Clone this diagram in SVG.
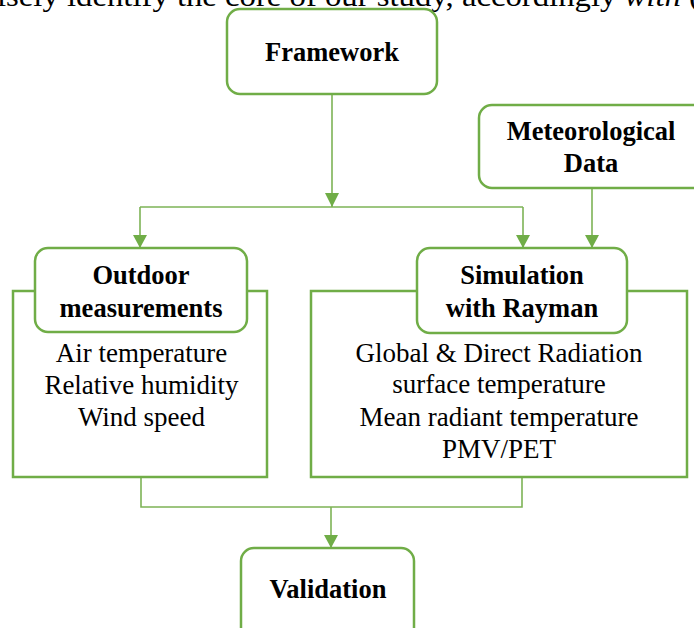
<svg xmlns="http://www.w3.org/2000/svg" width="694" height="628" viewBox="0 0 694 628">
<style>
.box{fill:#fff;stroke:#70AD47;stroke-width:2.5}
.frame{fill:#fff;stroke:#70AD47;stroke-width:2.5}
.con{fill:none;stroke:#7DB356;stroke-width:1.6}
.t{font-family:"Liberation Serif","Times New Roman",serif;font-size:27px;fill:#000;text-anchor:middle}
.b{font-weight:bold;font-size:26.5px}
.para{font-family:"Liberation Serif","Times New Roman",serif;font-size:30px;fill:#000}
</style>
<text class="para" x="-3" y="6" textLength="703" lengthAdjust="spacingAndGlyphs">isely identify the core of our study, accordingly <tspan font-style="italic">with</tspan> (</text>
<g id="connectors">
<path class="con" d="M332 94 V207"/>
<path class="con" d="M140 207 H523"/>
<path class="con" d="M140 207 V248"/>
<path class="con" d="M523 207 V248"/>
<path class="con" d="M592 188 V248"/>
<path class="con" d="M141 477 V507 H522 V477"/>
<path class="con" d="M331 507 V548"/>
<g fill="#70AD47">
<path d="M325 193 L339 193 L332 207 Z"/>
<path d="M133 235 L147 235 L140 248 Z"/>
<path d="M516 235 L530 235 L523 248 Z"/>
<path d="M585 235 L599 235 L592 248 Z"/>
<path d="M324 535 L338 535 L331 548 Z"/>
</g>
</g>
<g id="framework">
<rect class="box" x="227" y="9" width="210" height="85" rx="13"/>
<text class="t b" x="332" y="61">Framework</text>
</g>
<g id="meteorological">
<rect class="box" x="479" y="105" width="240" height="83" rx="13"/>
<text class="t b" x="591" y="140">Meteorological</text>
<text class="t b" x="591" y="172">Data</text>
</g>
<g id="outdoor">
<rect class="frame" x="13" y="291" width="254" height="186"/>
<rect class="box" x="35" y="248" width="212" height="84" rx="13"/>
<text class="t b" x="141" y="284">Outdoor</text>
<text class="t b" x="141" y="317">measurements</text>
<text class="t" x="141.5" y="362">Air temperature</text>
<text class="t" x="141.5" y="394">Relative humidity</text>
<text class="t" x="141.5" y="426">Wind speed</text>
</g>
<g id="simulation">
<rect class="frame" x="311" y="291" width="376" height="186"/>
<rect class="box" x="417" y="248" width="210" height="85" rx="13"/>
<text class="t b" x="522" y="284">Simulation</text>
<text class="t b" x="522" y="317">with Rayman</text>
<text class="t" x="499" y="362">Global &amp; Direct Radiation</text>
<text class="t" x="499" y="393">surface temperature</text>
<text class="t" x="499" y="426">Mean radiant temperature</text>
<text class="t" x="499" y="458">PMV/PET</text>
</g>
<g id="validation">
<rect class="box" x="241" y="548" width="173" height="100" rx="13"/>
<text class="t b" x="328" y="598">Validation</text>
</g>
</svg>
